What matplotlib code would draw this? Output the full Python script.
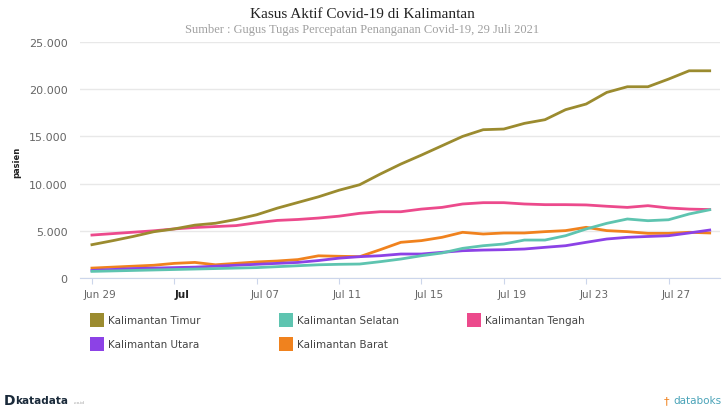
import matplotlib
matplotlib.use("Agg")
import matplotlib.pyplot as plt
import matplotlib.dates as mdates
import matplotlib.transforms as mtrans
from matplotlib.patches import Rectangle
from matplotlib.ticker import FuncFormatter
import pandas as pd

##################################################
# data (Jun 29 - Jul 29 2021)

tanggal = pd.date_range("2021-06-29", "2021-07-29", freq="D")

timur = [3530, 3950, 4400, 4900, 5200, 5600, 5800, 6200, 6700, 7400,
         8000, 8600, 9300, 9880, 11010, 12070, 13020, 14010, 15000, 15710,
         15780, 16380, 16770, 17830, 18430, 19660, 20260, 20260, 21070, 21950,
         21950]
selatan = [700, 750, 800, 850, 900, 950, 1000, 1050, 1100, 1200,
           1300, 1400, 1450, 1480, 1730, 2010, 2360, 2650, 3140, 3420,
           3600, 4020, 4020, 4480, 5190, 5790, 6250, 6070, 6170, 6780,
           7230]
tengah = [4550, 4700, 4850, 5000, 5200, 5350, 5450, 5550, 5850, 6100,
          6200, 6350, 6550, 6850, 7020, 7020, 7300, 7480, 7840, 7980,
          7980, 7840, 7770, 7770, 7740, 7600, 7480, 7660, 7420, 7300,
          7250]
utara = [800, 900, 1000, 1050, 1100, 1150, 1250, 1350, 1450, 1550,
         1650, 1850, 2100, 2260, 2360, 2540, 2540, 2720, 2890, 2960,
         3000, 3070, 3250, 3420, 3780, 4130, 4310, 4400, 4480, 4770,
         5080]
barat = [1050, 1150, 1250, 1350, 1550, 1650, 1400, 1550, 1700, 1800,
         1950, 2350, 2300, 2260, 3000, 3780, 3960, 4310, 4840, 4660,
         4770, 4770, 4910, 5020, 5370, 5020, 4910, 4730, 4730, 4840,
         4770]

nama = ["Kalimantan Timur", "Kalimantan Selatan", "Kalimantan Tengah",
        "Kalimantan Utara", "Kalimantan Barat"]
seri = [timur, selatan, tengah, utara, barat]
warna = ["#9b8b2f", "#5ec4b0", "#ec4a8c", "#8c42e6", "#f0821e"]

tick_tanggal = pd.date_range("2021-06-29", "2021-07-27", freq="4D")
tick_label = ["Jun 29", "Jul", "Jul 07", "Jul 11", "Jul 15", "Jul 19", "Jul 23", "Jul 27"]

##################################################

W, H = 723, 410
fig = plt.figure(figsize=(W / 100, H / 100), dpi=100)
fig.patch.set_facecolor("white")

ax = fig.add_axes([80 / W, (H - 279) / H, 640 / W, 236 / H])

# urutan gambar: yang pertama di legenda digambar terakhir (di atas)
for s, c in reversed(list(zip(seri, warna))):
    ax.plot(tanggal, s, color=c, linewidth=2, solid_joinstyle="round")

ax.set_ylim(0, 25000)
ax.set_yticks(range(0, 25001, 5000))
ax.yaxis.set_major_formatter(FuncFormatter(lambda v, p: f"{int(v):,}".replace(",", ".")))
start = mdates.date2num(pd.Timestamp("2021-06-29"))
ax.set_xlim(start - 0.58, start + 30.5)

ax.grid(axis="y", color="#e8e8e8", linewidth=1)
ax.set_axisbelow(True)
for sp in ["top", "right", "left"]:
    ax.spines[sp].set_visible(False)
ax.spines["bottom"].set_color("#ccd6eb")

ax.tick_params(axis="y", length=0, labelsize=8, labelcolor="#666666", pad=9)
ax.set_xticks(tick_tanggal)
ax.set_xticklabels(tick_label)
ax.tick_params(axis="x", length=4, color="#ccd6eb", labelsize=7.5, labelcolor="#666666", pad=4)
geser = mtrans.ScaledTranslation(8 / 100, 0, fig.dpi_scale_trans)
for lbl in ax.get_xticklabels():
    lbl.set_transform(lbl.get_transform() + geser)
    if lbl.get_text() == "Jul":
        lbl.set_fontweight("bold")
        lbl.set_color("#222222")

fig.text(17 / W, 1 - 162 / H, "pasien", rotation=90, fontsize=6, fontweight="bold",
         ha="center", va="center", color="#222222")

# judul
fig.text(362 / W, 1 - 14 / H, "Kasus Aktif Covid-19 di Kalimantan", family="Liberation Serif",
         fontsize=11, ha="center", va="center", color="#222222")
fig.text(362 / W, 1 - 30 / H, "Sumber : Gugus Tugas Percepatan Penanganan Covid-19, 29 Juli 2021",
         family="Liberation Serif", fontsize=9, ha="center", va="center", color="#a0a0a0")

# legenda
posisi = [(90, 321), (279, 321), (467, 321), (90, 345), (279, 345)]
for (x, y), n, c in zip(posisi, nama, warna):
    fig.patches.append(Rectangle((x / W, 1 - (y + 7) / H), 14 / W, 14 / H,
                                 transform=fig.transFigure, facecolor=c, edgecolor="none"))
    fig.text((x + 18) / W, 1 - y / H, n, fontsize=7.5, color="#444444", va="center", ha="left")

# logo
fig.text(4 / W, 1 - 401 / H, "D", fontsize=10, fontweight="bold", color="#1a2a3a", va="center")
fig.text(15 / W, 1 - 401 / H, "katadata", fontsize=7.5, fontweight="bold", color="#1a2a3a", va="center")
fig.text(74 / W, 1 - 403 / H, ".co.id", fontsize=3, color="#999999", va="center")
fig.text(664 / W, 1 - 401 / H, "\u2020", fontsize=8, color="#f0821e", va="center")
fig.text(673 / W, 1 - 401 / H, "databoks", fontsize=7.5, color="#4aa3b8", va="center")

fig.savefig("out.png", dpi=100)
